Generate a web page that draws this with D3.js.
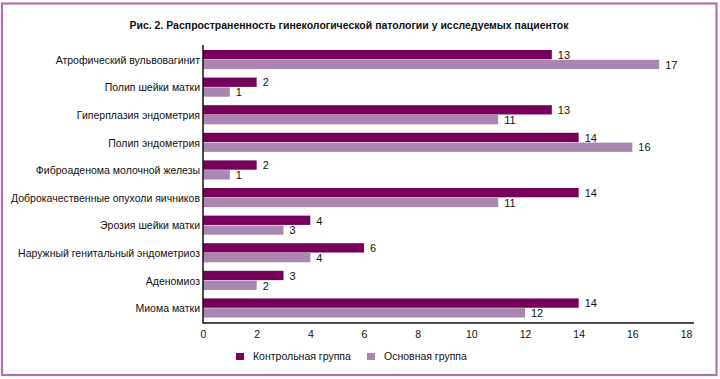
<!DOCTYPE html>
<html><head><meta charset="utf-8">
<script src="https://cdn.jsdelivr.net/npm/d3@7"></script>
<style>body{margin:0;background:#fff}svg{display:block;font-family:"Liberation Sans",Arial,sans-serif}</style>
</head><body><svg id="c" width="720" height="379"></svg>
<script>
const title = "Рис. 2. Распространенность гинекологической патологии у исследуемых пациенток";
const categories = ["Атрофический вульвовагинит","Полип шейки матки","Гиперплазия эндометрия","Полип эндометрия","Фиброаденома молочной железы","Доброкачественные опухоли яичников","Эрозия шейки матки","Наружный генитальный эндометриоз","Аденомиоз","Миома матки"];
const seriesNames = ["Контрольная группа","Основная группа"];
const control = [13,2,13,14,2,14,4,6,3,14];
const main = [17,1,11,16,1,11,3,4,2,12];
const xTicks = [0,2,4,6,8,10,12,14,16,18];
const colors = ["#76005a","#a987b1"];

const svg = d3.select("#c");
svg.append("rect").attr("x",2).attr("y",3.5).attr("width",714.5).attr("height",371.5)
  .attr("fill","none").attr("stroke","#b46fae").attr("stroke-width",2.2);

svg.append("text").attr("x",349).attr("y",29).attr("text-anchor","middle")
  .attr("font-size",10.5).attr("font-weight","bold").attr("fill","#111").text(title);

const x = d3.scaleLinear().domain([0,18]).range([203,686]);
const y = d3.scaleBand().domain(categories).range([45,323]).paddingInner(0.29).paddingOuter(0.18);
const sub = d3.scaleBand().domain([0,1]).range([0,y.bandwidth()]);

const data = categories.map((c,i)=>({c, v:[control[i], main[i]]}));
const g = svg.append("g");
data.forEach(d=>{
  d.v.forEach((val,k)=>{
    g.append("rect").attr("x",x(0)).attr("y",y(d.c)+sub(k))
      .attr("width",x(val)-x(0)).attr("height",sub.bandwidth()-0.5).attr("fill",colors[k]);
    g.append("text").attr("x",x(val)+6).attr("y",y(d.c)+sub(k)+sub.bandwidth()/2+4)
      .attr("font-size",11).attr("fill","#111").text(val);
  });
  g.append("text").attr("x",200).attr("y",y(d.c)+y.bandwidth()/2+4).attr("text-anchor","end")
    .attr("font-size",10.5).attr("fill","#111").text(d.c);
});

// axes lines
svg.append("line").attr("x1",x(0)).attr("x2",x(0)).attr("y1",45).attr("y2",323.5).attr("stroke","#111").attr("stroke-width",1.5);
svg.append("line").attr("x1",x(0)).attr("x2",694).attr("y1",323).attr("y2",323).attr("stroke","#111").attr("stroke-width",1.5);
const xa = svg.append("g").attr("transform","translate(0,323)")
  .call(d3.axisBottom(x).tickValues(xTicks).tickSize(0).tickPadding(7));
xa.select(".domain").remove();
xa.selectAll("text").attr("font-size",10.5).attr("fill","#111").attr("font-family","Liberation Sans, Arial, sans-serif").attr("dy","0.8em");

// legend
const lx = [236,367];
seriesNames.forEach((n,k)=>{
  svg.append("rect").attr("x",lx[k]).attr("y",353).attr("width",8).attr("height",7).attr("fill",colors[k]);
  svg.append("text").attr("x",lx[k]+17).attr("y",360).attr("font-size",10.5).attr("fill","#111").text(n);
});
</script></body></html>
